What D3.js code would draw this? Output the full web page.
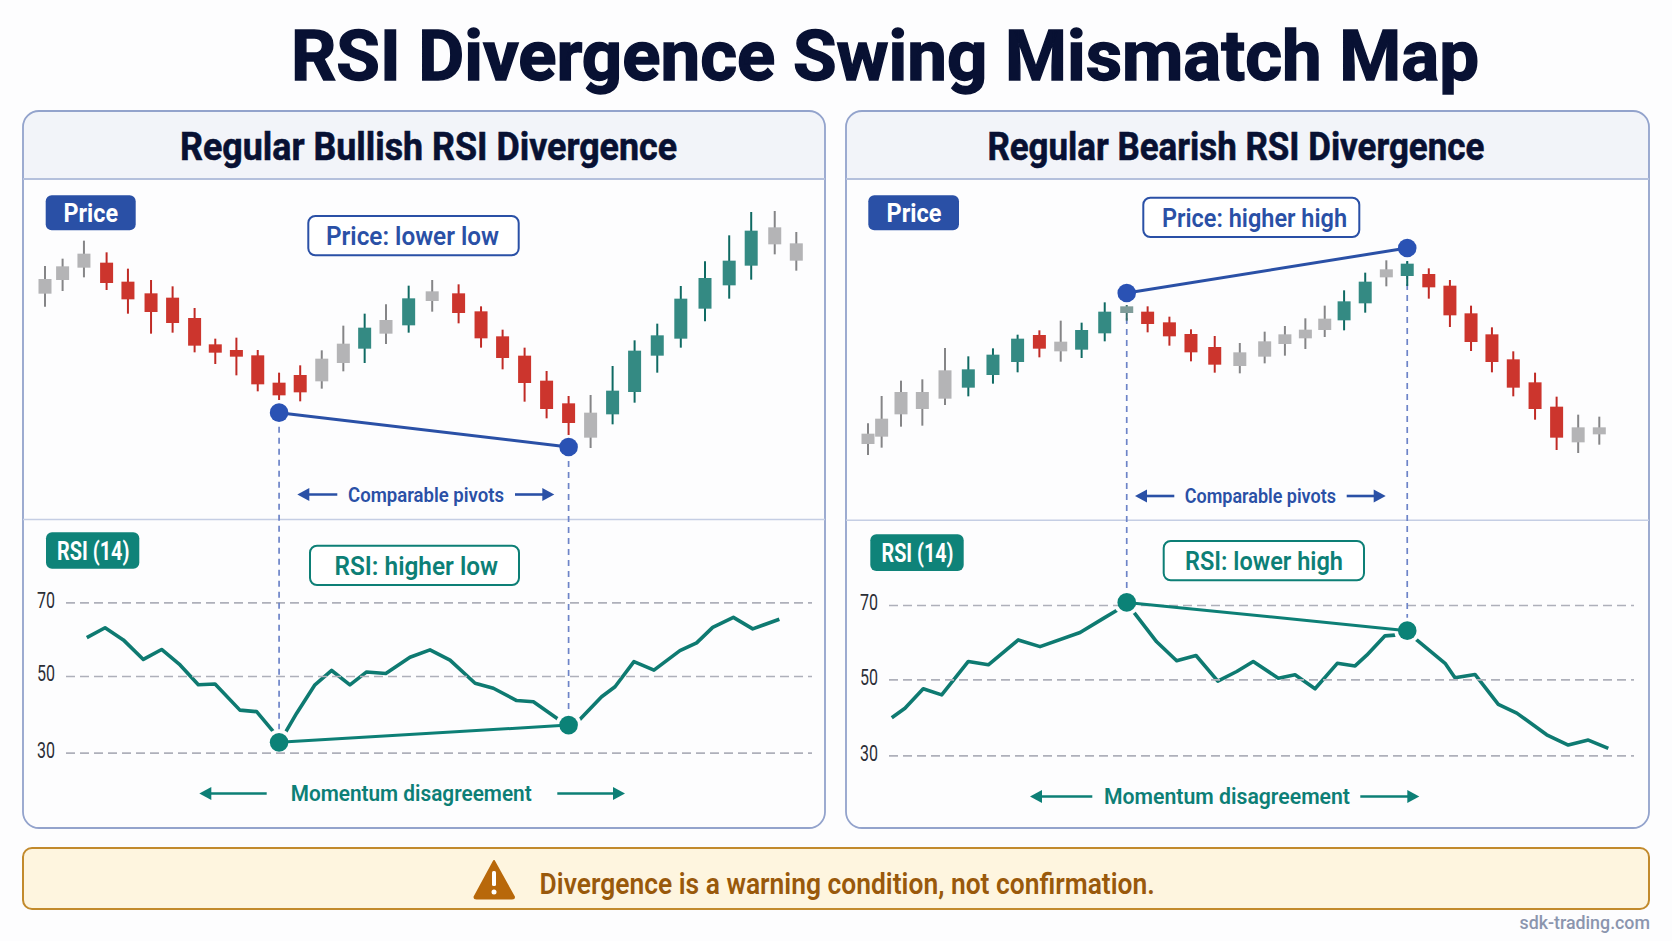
<!DOCTYPE html>
<html lang="en">
<head>
<meta charset="utf-8">
<title>RSI Divergence Swing Mismatch Map</title>
<script src="https://cdn.jsdelivr.net/npm/d3@7/dist/d3.min.js"></script>
<style>
  html, body { margin: 0; padding: 0; background: #fdfdfe; }
  svg { display: block; }
  text { font-family: Roboto, "Noto Sans", sans-serif; }
</style>
</head>
<body>
<svg id="chart" width="1672" height="941"></svg>
<script>
// ---- Regular bullish swing: bar times, OHLC-style levels and candle tone ----
const bullTime = [0, .8, 1.77, 2.8, 3.77, 4.82, 5.8, 6.8, 7.74, 8.7, 9.67, 10.64, 11.6, 12.58, 13.56, 14.53, 15.5, 16.53, 17.6, 18.8, 19.82, 20.8, 21.8, 22.8, 23.8, 24.8, 25.8, 26.8, 27.83, 28.9, 30, 31.1, 32.1, 33.17, 34.15];
const bullHigh = [772, 794, 848, 813, 764, 730, 711, 646, 554, 557, 520, 452, 474, 519, 593, 629, 657, 713, 730, 717, 651, 581, 527, 457, 382, 385, 472, 549, 599, 712, 786, 864, 934, 937, 874];
const bullLow = [650, 697, 738, 700, 629, 569, 572, 513, 478, 444, 396, 370, 366, 404, 456, 481, 538, 572, 635, 600, 527, 462, 365, 315, 265, 226, 297, 362, 452, 527, 606, 674, 731, 807, 758];
const bullBodyTop = [733, 771, 809, 782, 725, 690, 677, 616, 537, 520, 504, 422, 445, 494, 539, 587, 610, 675, 696, 690, 636, 561, 503, 428, 360, 332, 398, 518, 564, 674, 736, 788, 878, 888, 840];
const bullBodyBottom = [689, 730, 767, 721, 672, 634, 601, 533, 512, 500, 417, 384, 393, 426, 481, 524, 569, 594, 667, 631, 555, 496, 421, 343, 301, 257, 327, 394, 503, 554, 644, 714, 773, 837, 788];
const bullTone = "gggrrrrrrrrrrggtgtgrrrrrrgtttttttgg".split("");
const bullPivotBars = [11, 24];
const bullPivotPrice = [332, 229];

const bullRsiTime = [1.9, 2.73, 3.56, 4.47, 5.3, 6.14, 6.97, 7.73, 8.86, 9.62, 10.38, 10.64, 10.95, 11.44, 12.27, 13.03, 13.86, 14.62, 15.49, 16.59, 17.5, 18.41, 19.55, 20.38, 21.44, 22.2, 23.33, 23.8, 24.32, 25.3, 25.91, 26.77, 27.68, 28.86, 29.62, 30.35, 31.29, 32.17, 33.38];
const bullRsi = [60.4, 63.1, 59.8, 54.5, 57.2, 53, 47.7, 47.9, 41.1, 40.7, 35.5, 32.7, 35.5, 40.3, 47.7, 51.5, 47.7, 51.1, 50.7, 55.1, 57.1, 54.3, 48.1, 46.8, 43.6, 43.3, 38.7, 37.2, 38.7, 44.6, 47.2, 53.9, 51.6, 56.9, 59, 63.2, 65.9, 62.8, 65.4];
const bullRsiPivots = [32.7, 37.2];

// ---- Regular bearish swing ----
const bearTime = [0, .62, 1.5, 2.47, 3.5, 4.56, 5.68, 6.8, 7.79, 8.76, 9.71, 10.76, 11.76, 12.71, 13.7, 14.68, 15.76, 16.9, 18.03, 18.95, 19.88, 20.76, 21.64, 22.6, 23.56, 24.51, 25.49, 26.45, 27.41, 28.36, 29.33, 30.32, 31.3, 32.28, 33.24];
const bearHigh = [300, 382, 428, 432, 526, 501, 525, 566, 579, 608, 602, 663, 655, 651, 620, 582, 562, 541, 575, 592, 615, 653, 699, 752, 789, 787, 765, 730, 653, 588, 516, 452, 380, 326, 320];
const bearLow = [205, 227, 290, 293, 355, 381, 419, 453, 498, 485, 496, 546, 608, 573, 533, 486, 452, 450, 480, 503, 523, 559, 579, 632, 711, 712, 674, 589, 517, 453, 381, 311, 220, 211, 236];
const bearBodyTop = [269, 314, 394, 394, 459, 462, 506, 554, 565, 545, 580, 635, 651, 635, 603, 568, 529, 513, 546, 567, 581, 614, 666, 725, 762, 779, 748, 713, 630, 567, 492, 423, 350, 288, 288];
const bearBodyBottom = [238, 260, 327, 343, 374, 407, 445, 484, 524, 516, 521, 570, 631, 598, 561, 513, 476, 472, 500, 538, 555, 580, 609, 660, 738, 742, 708, 624, 544, 484, 407, 343, 257, 243, 267];
const bearTone = "gggggtttrgttmrrrrgggggttgtrrrrrrrgg".split("");
const bearPivotBars = [12, 25];
const bearPivotPrice = [691, 826];

const bearRsiTime = [1.08, 1.68, 2.51, 3.35, 4.56, 5.47, 6.83, 7.82, 9.64, 10.7, 11.3, 11.76, 12.14, 13.12, 14.03, 14.91, 15.9, 16.76, 17.51, 18.65, 19.41, 20.32, 21.33, 22.14, 22.67, 23.5, 23.95, 24.51, 24.94, 26.23, 26.68, 27.59, 28.65, 29.49, 30.85, 31.83, 32.74, 33.65];
const bearRsi = [39.9, 42.4, 47.5, 45.9, 54.8, 53.9, 60.6, 58.8, 62.6, 66.4, 68.5, 70.7, 67.6, 60.1, 55, 56.4, 49.5, 52.1, 54.8, 50.3, 51.2, 47.5, 54.3, 53.6, 56.5, 61.7, 61.9, 63.1, 60.6, 54.3, 50.4, 51.3, 43.4, 41.1, 35.4, 32.7, 34, 31.8];
const bearRsiPivots = [70.7, 63.1];

const rsiLevels = [30, 50, 70];

// ---- Palette ----
const BLUE = "#2a50a6", TEAL = "#0d7f76", NAVY = "#081133", FRAME = "#93a3cc";
const bodyColor = { g: "#b4b4b6", r: "#cc352d", t: "#348a83", m: "#7f9c99" };
const wickColor = { g: "#858587", r: "#c02a25", t: "#0f6a63", m: "#3c6f6b" };

const svg = d3.select("#chart");
svg.append("rect").attr("width", 1672).attr("height", 941).attr("fill", "#fdfdfe");

// Text squeezed or stretched to a fixed span so long headings keep their extent.
function fitText(parent, x0, x1, y, str, size, weight, fill, bold = 0) {
  return parent.append("text")
    .attr("x", x0).attr("y", y)
    .attr("textLength", x1 - x0).attr("lengthAdjust", "spacingAndGlyphs")
    .attr("dominant-baseline", "central")
    .attr("font-size", size).attr("font-weight", weight).attr("fill", fill)
    .attr("stroke", bold ? fill : "none").attr("stroke-width", bold)
    .text(str);
}

function arrow(parent, tail, tip, y, color) {
  const dir = Math.sign(tip - tail);
  parent.append("line").attr("x1", tail).attr("x2", tip - dir * 8).attr("y1", y).attr("y2", y)
    .attr("stroke", color).attr("stroke-width", 2.6);
  parent.append("path")
    .attr("d", `M${tip},${y}L${tip - dir * 12},${y - 6.5}L${tip - dir * 12},${y + 6.5}Z`)
    .attr("fill", color);
}

function badge(parent, b, str) {
  parent.append("rect").attr("x", b.x0).attr("y", b.y0)
    .attr("width", b.x1 - b.x0).attr("height", b.y1 - b.y0).attr("rx", 6).attr("fill", b.fill);
  fitText(parent, b.tx0, b.tx1, (b.y0 + b.y1) / 2 + 1, str, 25, 700, "#fff");
}

function callout(parent, c, str, color) {
  parent.append("rect").attr("x", c.x0).attr("y", c.y0)
    .attr("width", c.x1 - c.x0).attr("height", c.y1 - c.y0).attr("rx", 7)
    .attr("fill", "#fff").attr("stroke", color).attr("stroke-width", 2);
  fitText(parent, c.tx0, c.tx1, (c.y0 + c.y1) / 2 + 1, str, 25, 600, color);
}

function drawPanel(p) {
  const g = svg.append("g");
  const { x0, x1 } = p.frame;

  // Frame and header strip
  g.append("path")
    .attr("d", `M${x0},179V127a16,16 0 0 1 16,-16H${x1 - 16}a16,16 0 0 1 16,16V179Z`)
    .attr("fill", "#f2f4f9");
  g.append("rect").attr("x", x0).attr("y", 111).attr("width", x1 - x0).attr("height", 717)
    .attr("rx", 16).attr("fill", "none").attr("stroke", FRAME).attr("stroke-width", 1.8);
  g.append("line").attr("x1", x0).attr("x2", x1).attr("y1", 179).attr("y2", 179)
    .attr("stroke", "#b4c0dc").attr("stroke-width", 1.8);
  g.append("line").attr("x1", x0).attr("x2", x1).attr("y1", p.divider).attr("y2", p.divider)
    .attr("stroke", "#c5cee4").attr("stroke-width", 1.5);
  fitText(g, p.head[0], p.head[1], 147, p.title, 39, 700, NAVY, 0.6);

  // Shared time scale, separate price and RSI scales
  const x = d3.scaleLinear().domain(d3.extent(p.time)).range(p.xRange);
  const priceY = d3.scaleLinear().domain([0, 1000]).range([523.33, 190]);
  const rsiY = d3.scaleLinear().domain(rsiLevels).range(p.rsiRange);

  const pivots = p.pivotBars.map((b, i) => ({
    x: x(p.time[b]), price: priceY(p.pivotPrice[i]), rsi: rsiY(p.rsiPivots[i])
  }));

  // RSI trace, broken around its pivots by a background halo
  const rsiLine = d3.line().x(d => x(d.t)).y(d => rsiY(d.v));
  const rsiPoints = p.rsiTime.map((t, i) => ({ t, v: p.rsi[i] }));

  g.append("path").datum(rsiPoints).attr("d", rsiLine)
    .attr("fill", "none").attr("stroke", "#0e7a71").attr("stroke-width", 3.6)
    .attr("stroke-linejoin", "round");
  g.selectAll(".halo").data(pivots).join("circle").attr("class", "halo")
    .attr("cx", d => d.x).attr("cy", d => d.rsi).attr("r", 13).attr("fill", "#fdfdfe");

  const axis = g.append("g").attr("transform", `translate(${p.axisX},0)`)
    .call(d3.axisLeft(rsiY).tickValues(rsiLevels).tickSize(-p.gridWidth).tickPadding(p.tickPad));
  axis.select(".domain").remove();
  axis.selectAll("line").attr("stroke", "#aeb0ba").attr("stroke-width", 1.7).attr("stroke-dasharray", "9 5");
  axis.selectAll("text").attr("font-family", "Roboto").attr("font-size", 22).attr("fill", "#2b2e36")
    .attr("dy", "0.22em").attr("textLength", 18).attr("lengthAdjust", "spacingAndGlyphs");

  // Dashed guides joining each price pivot to its RSI pivot
  g.selectAll(".guide").data(pivots).join("line").attr("class", "guide")
    .attr("x1", d => d.x).attr("x2", d => d.x)
    .attr("y1", d => d.price + 14).attr("y2", d => d.rsi - 13)
    .attr("stroke", "#6d84c8").attr("stroke-width", 1.7).attr("stroke-dasharray", "6 5");

  // Candles
  const candles = p.time.map((t, i) => ({
    t, hi: p.high[i], lo: p.low[i], top: p.bodyTop[i], bot: p.bodyBottom[i], tone: p.tone[i]
  }));
  const c = g.selectAll(".candle").data(candles).join("g").attr("class", "candle");
  c.append("line")
    .attr("x1", d => x(d.t)).attr("x2", d => x(d.t))
    .attr("y1", d => priceY(d.hi)).attr("y2", d => priceY(d.lo))
    .attr("stroke", d => wickColor[d.tone]).attr("stroke-width", 2);
  c.append("rect")
    .attr("x", d => x(d.t) - 6.5).attr("width", 13)
    .attr("y", d => priceY(d.top)).attr("height", d => priceY(d.bot) - priceY(d.top))
    .attr("fill", d => bodyColor[d.tone]);

  // Swing connectors and pivot dots
  g.append("line").attr("x1", pivots[0].x).attr("x2", pivots[1].x)
    .attr("y1", pivots[0].price).attr("y2", pivots[1].price)
    .attr("stroke", BLUE).attr("stroke-width", 3);
  g.append("line").attr("x1", pivots[0].x).attr("x2", pivots[1].x)
    .attr("y1", pivots[0].rsi).attr("y2", pivots[1].rsi)
    .attr("stroke", TEAL).attr("stroke-width", 3);
  g.selectAll(".dotP").data(pivots).join("circle").attr("class", "dotP")
    .attr("cx", d => d.x).attr("cy", d => d.price).attr("r", 9.3).attr("fill", "#2a52b4");
  g.selectAll(".dotR").data(pivots).join("circle").attr("class", "dotR")
    .attr("cx", d => d.x).attr("cy", d => d.rsi).attr("r", 9.3).attr("fill", "#0b8277");

  // Labels
  badge(g, { ...p.priceBadge, fill: BLUE }, "Price");
  badge(g, { ...p.rsiBadge, fill: "#0f8379" }, "RSI (14)");
  callout(g, p.priceCall, p.priceText, BLUE);
  callout(g, p.rsiCall, p.rsiText, TEAL);

  fitText(g, p.pivotLabel.tx0, p.pivotLabel.tx1, p.pivotLabel.y, "Comparable pivots", 21, 600, BLUE);
  arrow(g, p.pivotLabel.left[0], p.pivotLabel.left[1], p.pivotLabel.y, BLUE);
  arrow(g, p.pivotLabel.right[0], p.pivotLabel.right[1], p.pivotLabel.y, BLUE);
  fitText(g, p.momentum.tx0, p.momentum.tx1, p.momentum.y, "Momentum disagreement", 22, 600, TEAL);
  arrow(g, p.momentum.left[0], p.momentum.left[1], p.momentum.y, TEAL);
  arrow(g, p.momentum.right[0], p.momentum.right[1], p.momentum.y, TEAL);
}

fitText(svg, 291, 1479, 56, "RSI Divergence Swing Mismatch Map", 70, 700, NAVY, 1.4);

drawPanel({
  title: "Regular Bullish RSI Divergence", head: [180, 677],
  frame: { x0: 23, x1: 825 }, divider: 519.5,
  time: bullTime, high: bullHigh, low: bullLow, bodyTop: bullBodyTop, bodyBottom: bullBodyBottom, tone: bullTone,
  pivotBars: bullPivotBars, pivotPrice: bullPivotPrice, rsiPivots: bullRsiPivots,
  rsiTime: bullRsiTime, rsi: bullRsi,
  xRange: [45, 796.3], rsiRange: [752.7, 676, 602.3],
  axisX: 66, gridWidth: 746, tickPad: 11,
  priceBadge: { x0: 45.7, x1: 135.7, y0: 195.3, y1: 230.3, tx0: 63.5, tx1: 118 },
  rsiBadge: { x0: 46, x1: 139.3, y0: 532.3, y1: 568.7, tx0: 57, tx1: 129.5 },
  priceCall: { x0: 308.3, x1: 518.7, y0: 216, y1: 255.3, tx0: 326, tx1: 499 },
  priceText: "Price: lower low",
  rsiCall: { x0: 310, x1: 519, y0: 545.7, y1: 585, tx0: 334.5, tx1: 498 },
  rsiText: "RSI: higher low",
  pivotLabel: { tx0: 348, tx1: 504, y: 494.5, left: [337.3, 297.3], right: [515, 554.3] },
  momentum: { tx0: 290.7, tx1: 531.7, y: 793.5, left: [266.7, 199.3], right: [557.3, 625] }
});

drawPanel({
  title: "Regular Bearish RSI Divergence", head: [987.4, 1484.3],
  frame: { x0: 846, x1: 1649 }, divider: 520.3,
  time: bearTime, high: bearHigh, low: bearLow, bodyTop: bearBodyTop, bodyBottom: bearBodyBottom, tone: bearTone,
  pivotBars: bearPivotBars, pivotPrice: bearPivotPrice, rsiPivots: bearRsiPivots,
  rsiTime: bearRsiTime, rsi: bearRsi,
  xRange: [868, 1599.3], rsiRange: [755.3, 679.3, 605],
  axisX: 889, gridWidth: 745, tickPad: 11,
  priceBadge: { x0: 868.3, x1: 959, y0: 195.3, y1: 230.3, tx0: 886.5, tx1: 941.5 },
  rsiBadge: { x0: 870.3, x1: 963.7, y0: 534.3, y1: 571, tx0: 881.5, tx1: 953.5 },
  priceCall: { x0: 1143.3, x1: 1359.3, y0: 197.7, y1: 237, tx0: 1162, tx1: 1347 },
  priceText: "Price: higher high",
  rsiCall: { x0: 1163.7, x1: 1364, y0: 541, y1: 580.3, tx0: 1185, tx1: 1343 },
  rsiText: "RSI: lower high",
  pivotLabel: { tx0: 1184.7, tx1: 1336, y: 496, left: [1174.3, 1135], right: [1346.7, 1385.7] },
  momentum: { tx0: 1104, tx1: 1350, y: 796.5, left: [1092.3, 1030], right: [1360.3, 1419.3] }
});

// Warning banner and site credit
svg.append("rect").attr("x", 23).attr("y", 848).attr("width", 1626).attr("height", 61)
  .attr("rx", 9).attr("fill", "#fef5df").attr("stroke", "#c28a2c").attr("stroke-width", 2);
svg.append("path").attr("d", "M494,861 L514,897 Q514,898.5 512,898.5 H476.5 Q474.5,898.5 474.5,897 Z")
  .attr("fill", "#b8680a").attr("stroke", "#b8680a").attr("stroke-width", 2).attr("stroke-linejoin", "round");
svg.append("rect").attr("x", 492).attr("y", 871).attr("width", 4).attr("height", 15).attr("rx", 1.5).attr("fill", "#fff");
svg.append("circle").attr("cx", 494).attr("cy", 892).attr("r", 2.5).attr("fill", "#fff");
fitText(svg, 539.6, 1154.8, 883.5, "Divergence is a warning condition, not confirmation.", 29, 600, "#99590b");
fitText(svg, 1519.5, 1650, 922.5, "sdk-trading.com", 18, 500, "#8b95ae");
</script>
</body>
</html>
